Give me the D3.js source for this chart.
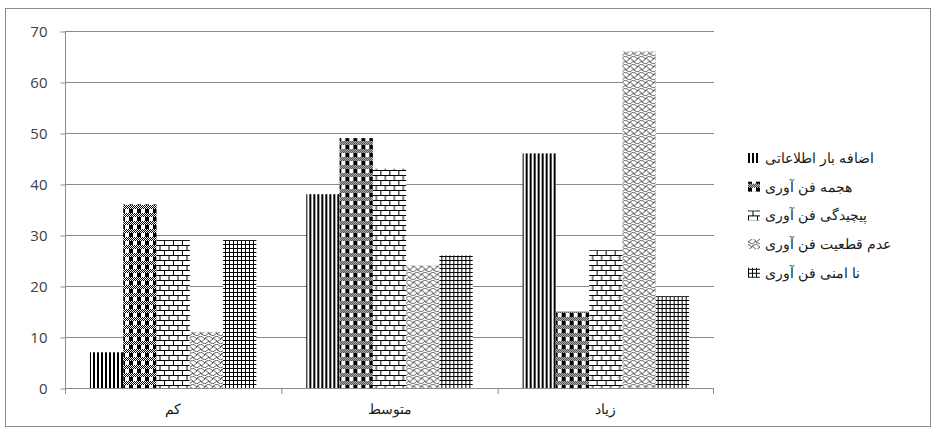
<!DOCTYPE html>
<html>
<head>
<meta charset="utf-8">
<script src="https://cdn.jsdelivr.net/npm/d3@7"></script>
<style>
  body { margin: 0; background: #fff; }
  svg text { font-family: "Liberation Sans", Arial, sans-serif; }
</style>
</head>
<body>
<div id="chart"></div>
<script>
// data
var categories = ["کم", "متوسط", "زیاد"];
var seriesNames = ["اضافه بار اطلاعاتی", "هجمه فن آوری", "پیچیدگی فن آوری", "عدم قطعیت فن آوری", "نا امنی فن آوری"];
var seriesValues = [
  [7, 38, 46],
  [36, 49, 15],
  [29, 43, 27],
  [11, 24, 66],
  [29, 26, 18]
];
var yTicks = [0, 10, 20, 30, 40, 50, 60, 70];

var width = 931, height = 432;
var plotLeft = 65, plotRight = 714, plotTop = 31, plotBottom = 388;

var svg = d3.select("#chart").append("svg")
  .attr("width", width)
  .attr("height", height);

// patterns
var defs = svg.append("defs");

var p0 = defs.append("pattern").attr("id", "pat0").attr("patternUnits", "userSpaceOnUse")
  .attr("width", 4).attr("height", 4);
p0.append("rect").attr("width", 4).attr("height", 4).attr("fill", "#fff");
p0.append("rect").attr("width", 2).attr("height", 4).attr("fill", "#000");

// checker blocks with dithered bands
var p1 = defs.append("pattern").attr("id", "pat1").attr("patternUnits", "userSpaceOnUse")
  .attr("width", 8).attr("height", 8);
p1.append("rect").attr("width", 8).attr("height", 8).attr("fill", "#fff");
for (var i = 0; i < 8; i++) {
  for (var j = 0; j < 8; j++) {
    if ((i + j) % 2 == 0) p1.append("rect").attr("x", i).attr("y", j).attr("width", 1).attr("height", 1).attr("fill", "#000");
  }
}
p1.append("rect").attr("x", 0).attr("y", 1).attr("width", 4).attr("height", 4).attr("fill", "#000");
p1.append("rect").attr("x", 4).attr("y", 1).attr("width", 4).attr("height", 4).attr("fill", "#fff");
p1.append("rect").attr("x", 5).attr("y", 2).attr("width", 2).attr("height", 2).attr("fill", "#fff");

var p2 = defs.append("pattern").attr("id", "pat2").attr("patternUnits", "userSpaceOnUse")
  .attr("width", 9).attr("height", 10);
p2.append("rect").attr("width", 9).attr("height", 10).attr("fill", "#fff");
p2.append("path").attr("d", "M0,0.5H9M0,5.5H9M0.5,0V5M5,5V10")
  .attr("stroke", "#000").attr("stroke-width", 1).attr("fill", "none");

var p3 = defs.append("pattern").attr("id", "pat3").attr("patternUnits", "userSpaceOnUse")
  .attr("width", 8).attr("height", 8);
p3.append("rect").attr("width", 8).attr("height", 8).attr("fill", "#fff");
p3.append("path").attr("d", "M0,0L4,3L0,6M4,2L8,5L4,8M4,2L8,0M0,6L4,8")
  .attr("stroke", "#333").attr("stroke-width", 0.8).attr("fill", "none");

var p4 = defs.append("pattern").attr("id", "pat4").attr("patternUnits", "userSpaceOnUse")
  .attr("width", 4).attr("height", 4);
p4.append("rect").attr("width", 4).attr("height", 4).attr("fill", "#fff");
p4.append("path").attr("d", "M0.5,0V4M0,0.5H4").attr("stroke", "#000").attr("stroke-width", 1);

// frame
svg.append("rect")
  .attr("x", 5.5).attr("y", 8.5)
  .attr("width", 925).attr("height", 418)
  .attr("fill", "none").attr("stroke", "#8c8c8c");

var x0 = d3.scaleBand().domain(categories).range([plotLeft, plotRight]).padding(0);
var x1 = d3.scaleBand().domain(d3.range(seriesNames.length))
  .range([0, x0.bandwidth()]).paddingInner(0).paddingOuter(0.75);
var y = d3.scaleLinear().domain([0, 70]).range([plotBottom, plotTop]);

// gridlines
svg.append("g").selectAll("line")
  .data(yTicks.slice(1))
  .enter().append("line")
  .attr("x1", plotLeft).attr("x2", plotRight)
  .attr("y1", function(d) { return Math.round(y(d)) + 0.5; })
  .attr("y2", function(d) { return Math.round(y(d)) + 0.5; })
  .attr("stroke", "#8a8a8a");

// y axis
var yAxis = d3.axisLeft(y).tickValues(yTicks).tickSize(5).tickPadding(13);
var gy = svg.append("g").attr("transform", "translate(" + (plotLeft + 0.5) + ",0.5)").call(yAxis);
gy.select(".domain").attr("stroke", "#8a8a8a").attr("d", "M0," + (plotTop - 0.5) + "V" + (plotBottom - 0.5));
gy.selectAll(".tick line").attr("stroke", "#8a8a8a");
gy.selectAll(".tick text").attr("fill", "#404040").style("font-size", "15px")
  .style("font-family", "'Open Sans', sans-serif");

// bars
var groups = svg.append("g").selectAll("g")
  .data(categories)
  .enter().append("g")
  .attr("transform", function(d) { return "translate(" + x0(d) + ",0)"; });

groups.selectAll("rect")
  .data(function(d, ci) { return seriesValues.map(function(s, si) { return {s: si, v: s[ci]}; }); })
  .enter().append("rect")
  .attr("x", function(d) { return x1(d.s); })
  .attr("width", x1.bandwidth())
  .attr("y", function(d) { return y(d.v); })
  .attr("height", function(d) { return plotBottom - y(d.v); })
  .attr("fill", function(d) { return "url(#pat" + d.s + ")"; });

// x axis
var xAxis = d3.axisBottom(x0).tickSize(0).tickPadding(16);
var gx = svg.append("g").attr("transform", "translate(0," + (plotBottom + 0.5) + ")").call(xAxis);
gx.select(".domain").attr("stroke", "#8a8a8a").attr("d", "M" + plotLeft + ",0H" + plotRight);
gx.selectAll(".tick text").attr("fill", "#1a1a1a").style("font-size", "14px");
svg.append("g").selectAll("line")
  .data(categories.concat(["end"]))
  .enter().append("line")
  .attr("x1", function(d) { return d == "end" ? plotRight - 0.5 : x0(d) + 0.5; })
  .attr("x2", function(d) { return d == "end" ? plotRight - 0.5 : x0(d) + 0.5; })
  .attr("y1", plotBottom).attr("y2", plotBottom + 6)
  .attr("stroke", "#8a8a8a");

// legend
var legend = svg.append("g").selectAll("g")
  .data(seriesNames)
  .enter().append("g")
  .attr("transform", function(d, i) { return "translate(748," + (158 + i * 28.7) + ")"; });
legend.append("rect")
  .attr("x", 0).attr("y", -5).attr("width", 12).attr("height", 10)
  .attr("fill", function(d, i) { return "url(#pat" + i + ")"; });
legend.append("text")
  .attr("x", 17).attr("y", 5)
  .attr("fill", "#1a1a1a")
  .style("font-size", "14px")
  .text(function(d) { return d; });
</script>
</body>
</html>
